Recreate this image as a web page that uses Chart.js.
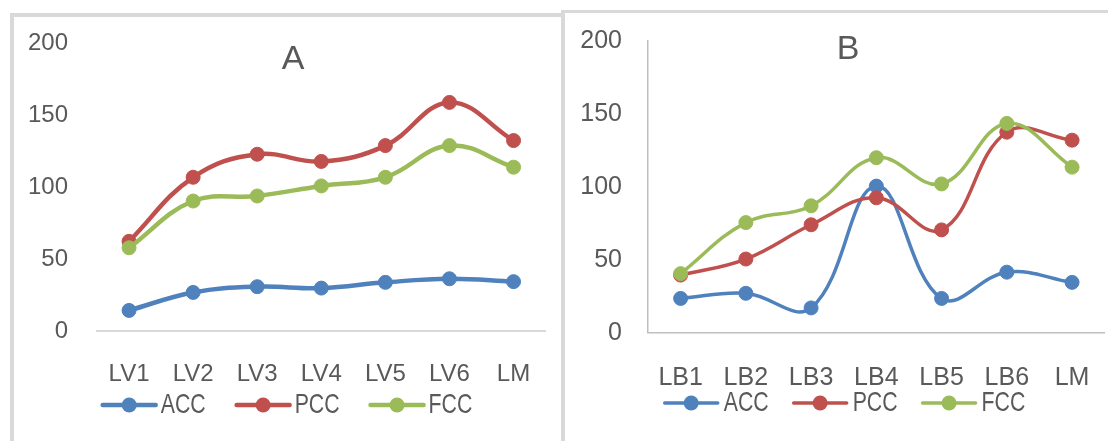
<!DOCTYPE html>
<html lang="en">
<head>
<meta charset="UTF-8" />
<title>ACC / PCC / FCC</title>
<script src="https://cdn.jsdelivr.net/npm/chart.js"></script>
<style>
  html, body { margin: 0; padding: 0; background: #fff; width: 1108px; height: 441px; overflow: hidden; }
  .frameA { position: absolute; left: 10px; top: 13px; width: 560px; height: 440px;
            border-left: 4px solid #d9d9d9; border-top: 4px solid #d9d9d9; }
  .frameB { position: absolute; left: 561px; top: 10px; width: 560px; height: 440px;
            border-left: 4px solid #d9d9d9; border-top: 3px solid #d9d9d9; background: #fff; }
  .panel { position: absolute; top: 0; }
  #panelA { left: 0; }
  #panelB { left: 560px; }
</style>
</head>
<body>
<div class="frameA"></div>
<div class="frameB"></div>
<div class="panel" id="panelA"><canvas id="chartA" width="560" height="441"></canvas></div>
<div class="panel" id="panelB"><canvas id="chartB" width="560" height="441"></canvas></div>

<script>
// data
const seriesNames = ['ACC', 'PCC', 'FCC'];
const seriesColors = ['#4f81bd', '#c0504d', '#9bbb59'];
const yTicks = [0, 50, 100, 150, 200];

const labelsA = ['LV1', 'LV2', 'LV3', 'LV4', 'LV5', 'LV6', 'LM'];
const accA = [14.5, 27, 31, 30, 34, 36.5, 34.5];
const pccA = [62.5, 107, 123, 118, 129, 159, 132.5];
const fccA = [58, 90.5, 94, 101, 107, 129, 114];

const labelsB = ['LB1', 'LB2', 'LB3', 'LB4', 'LB5', 'LB6', 'LM'];
const accB = [23.5, 27, 17, 100.5, 23.5, 41.5, 34.5];
const pccB = [39.5, 50.5, 74, 92.5, 70.5, 137.5, 132];
const fccB = [40.5, 75.5, 87, 120, 102, 143.5, 113.5];

const textColor = '#595959';

// panel letter
const panelTitle = {
    id: 'panelTitle',
    afterDraw(chart, args, o) {
        const ctx = chart.ctx;
        ctx.save();
        ctx.font = o.font;
        ctx.fillStyle = textColor;
        ctx.textAlign = 'center';
        ctx.textBaseline = 'middle';
        ctx.fillText(o.text, o.x, o.y);
        ctx.restore();
    }
};

// excel style legend: line + marker + name (names squeezed a bit, like the narrow font)
const lineLegend = {
    id: 'lineLegend',
    afterDraw(chart, args, o) {
        const ctx = chart.ctx;
        ctx.save();
        ctx.font = o.font;
        const items = chart.data.datasets.map(ds => ({ ds, w: ctx.measureText(ds.label).width * o.squeeze }));
        const total = items.reduce((s, it) => s + o.lineLen + o.textGap + it.w, 0) + o.itemGap * (items.length - 1);
        let x = o.centerX - total / 2;
        items.forEach(it => {
            const c = it.ds.borderColor;
            ctx.strokeStyle = c;
            ctx.lineWidth = o.lineWidth;
            ctx.lineCap = 'round';
            ctx.beginPath();
            ctx.moveTo(x, o.y);
            ctx.lineTo(x + o.lineLen, o.y);
            ctx.stroke();
            ctx.fillStyle = c;
            ctx.beginPath();
            ctx.arc(x + o.lineLen / 2, o.y, o.radius, 0, Math.PI * 2);
            ctx.fill();
            ctx.save();
            ctx.translate(x + o.lineLen + o.textGap, o.y);
            ctx.scale(o.squeeze, 1);
            ctx.fillStyle = textColor;
            ctx.textAlign = 'left';
            ctx.textBaseline = 'middle';
            ctx.fillText(it.ds.label, 0, 0);
            ctx.restore();
            x += o.lineLen + o.textGap + it.w + o.itemGap;
        });
        ctx.restore();
    }
};

function makeChart(id, labels, values, c) {
    const datasets = values.map((v, i) => ({
        label: seriesNames[i],
        data: v,
        borderColor: seriesColors[i],
        backgroundColor: seriesColors[i],
        pointBackgroundColor: seriesColors[i],
        pointBorderColor: seriesColors[i],
        pointBorderWidth: 1,
        pointRadius: 7,
        borderWidth: c.lineWidth,
        tension: 0.4,
        order: values.length - 1 - i
    }));
    return new Chart(document.getElementById(id), {
        type: 'line',
        data: { labels, datasets },
        options: {
            responsive: false,
            animation: false,
            layout: { padding: { top: c.top, right: c.right, left: 0, bottom: 0 } },
            plugins: {
                legend: { display: false },
                tooltip: { enabled: false },
                panelTitle: c.title,
                lineLegend: c.legend
            },
            scales: {
                x: {
                    offset: true,
                    grid: { display: false, drawTicks: false },
                    border: { display: true, color: c.axisColor, width: c.axisWidth },
                    ticks: { padding: c.xPad, color: textColor, autoSkip: false, maxRotation: 0,
                             font: { family: 'Liberation Sans', size: c.tickSize } },
                    afterFit: s => { s.height = c.xHeight; }
                },
                y: {
                    min: 0,
                    max: 200,
                    afterBuildTicks: s => { s.ticks = yTicks.map(v => ({ value: v })); },
                    grid: { display: false, drawTicks: false },
                    border: { display: c.yBorder, color: c.axisColor, width: c.axisWidth },
                    ticks: { padding: c.yPad, color: textColor,
                             font: { family: 'Liberation Sans', size: c.tickSize } },
                    afterFit: s => { s.width = c.yWidth; }
                }
            }
        },
        plugins: [panelTitle, lineLegend]
    });
}

makeChart('chartA', labelsA, [accA, pccA, fccA], {
    top: 41.7, right: 11, yWidth: 97, xHeight: 109.7,
    yPad: 29, xPad: 29, tickSize: 24, lineWidth: 4.5,
    axisColor: '#d9d9d9', axisWidth: 2, yBorder: false,
    title: { text: 'A', x: 293, y: 60, font: '34px "Liberation Sans"' },
    legend: { font: '28px "Liberation Sans"', squeeze: 0.76, centerX: 287.5, y: 405,
              lineLen: 53, textGap: 5, itemGap: 31, lineWidth: 4.5, radius: 7.5 }
});

makeChart('chartB', labelsB, [accB, pccB, fccB], {
    top: 34.3, right: 5, yWidth: 88, xHeight: 108.3,
    yPad: 26, xPad: 30, tickSize: 25, lineWidth: 3.5,
    axisColor: '#bfbfbf', axisWidth: 1.5, yBorder: true,
    title: { text: 'B', x: 288, y: 50, font: '34px "Liberation Sans"' },
    legend: { font: '28px "Liberation Sans"', squeeze: 0.76, centerX: 285, y: 403,
              lineLen: 53, textGap: 6, itemGap: 25, lineWidth: 3.5, radius: 7.5 }
});
</script>
</body>
</html>
